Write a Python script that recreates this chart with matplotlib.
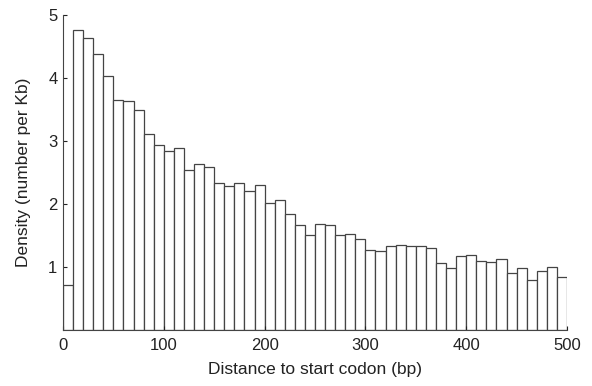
import matplotlib.pyplot as plt
import numpy as np

plt.rcParams['font.family'] = ['Liberation Sans', 'DejaVu Sans']

# bin left edges (bp) and densities
bin_width = 10
bin_starts = np.arange(0, 500, bin_width)
density = [0.71, 4.76, 4.63, 4.38, 4.03, 3.65, 3.63, 3.50, 3.11, 2.93,
           2.84, 2.89, 2.54, 2.63, 2.58, 2.33, 2.29, 2.33, 2.20, 2.30,
           2.01, 2.06, 1.84, 1.67, 1.51, 1.68, 1.66, 1.50, 1.53, 1.45,
           1.27, 1.25, 1.33, 1.35, 1.33, 1.34, 1.30, 1.06, 0.98, 1.17,
           1.19, 1.10, 1.08, 1.12, 0.90, 0.98, 0.80, 0.94, 1.00, 0.84]
x_ticks = [0, 100, 200, 300, 400, 500]
y_ticks = [1, 2, 3, 4, 5]

fig = plt.figure(figsize=(5.92, 3.86), dpi=100)
ax = fig.add_axes([0.1064, 0.1451, 0.8514, 0.816])

ax.bar(bin_starts, density, width=bin_width, align='edge',
       color='white', edgecolor='#444444', linewidth=0.9)

ax.set_xlim(0, 500)
ax.set_ylim(0, 5)
ax.set_xticks(x_ticks)
ax.set_yticks(y_ticks)
ax.tick_params(direction='in', length=3, labelsize=12, colors='#222222')
ax.tick_params(axis='x', pad=6)
ax.tick_params(axis='y', pad=4)
ax.spines['top'].set_visible(False)
ax.spines['right'].set_visible(False)
for s in ['left', 'bottom']:
    ax.spines[s].set_color('#444444')

ax.set_xlabel('Distance to start codon (bp)', fontsize=12.5, color='#222222',
              labelpad=6)
ax.set_ylabel('Density (number per Kb)', fontsize=12.5, color='#222222',
              labelpad=12)

fig.savefig('out.png', dpi=100)
